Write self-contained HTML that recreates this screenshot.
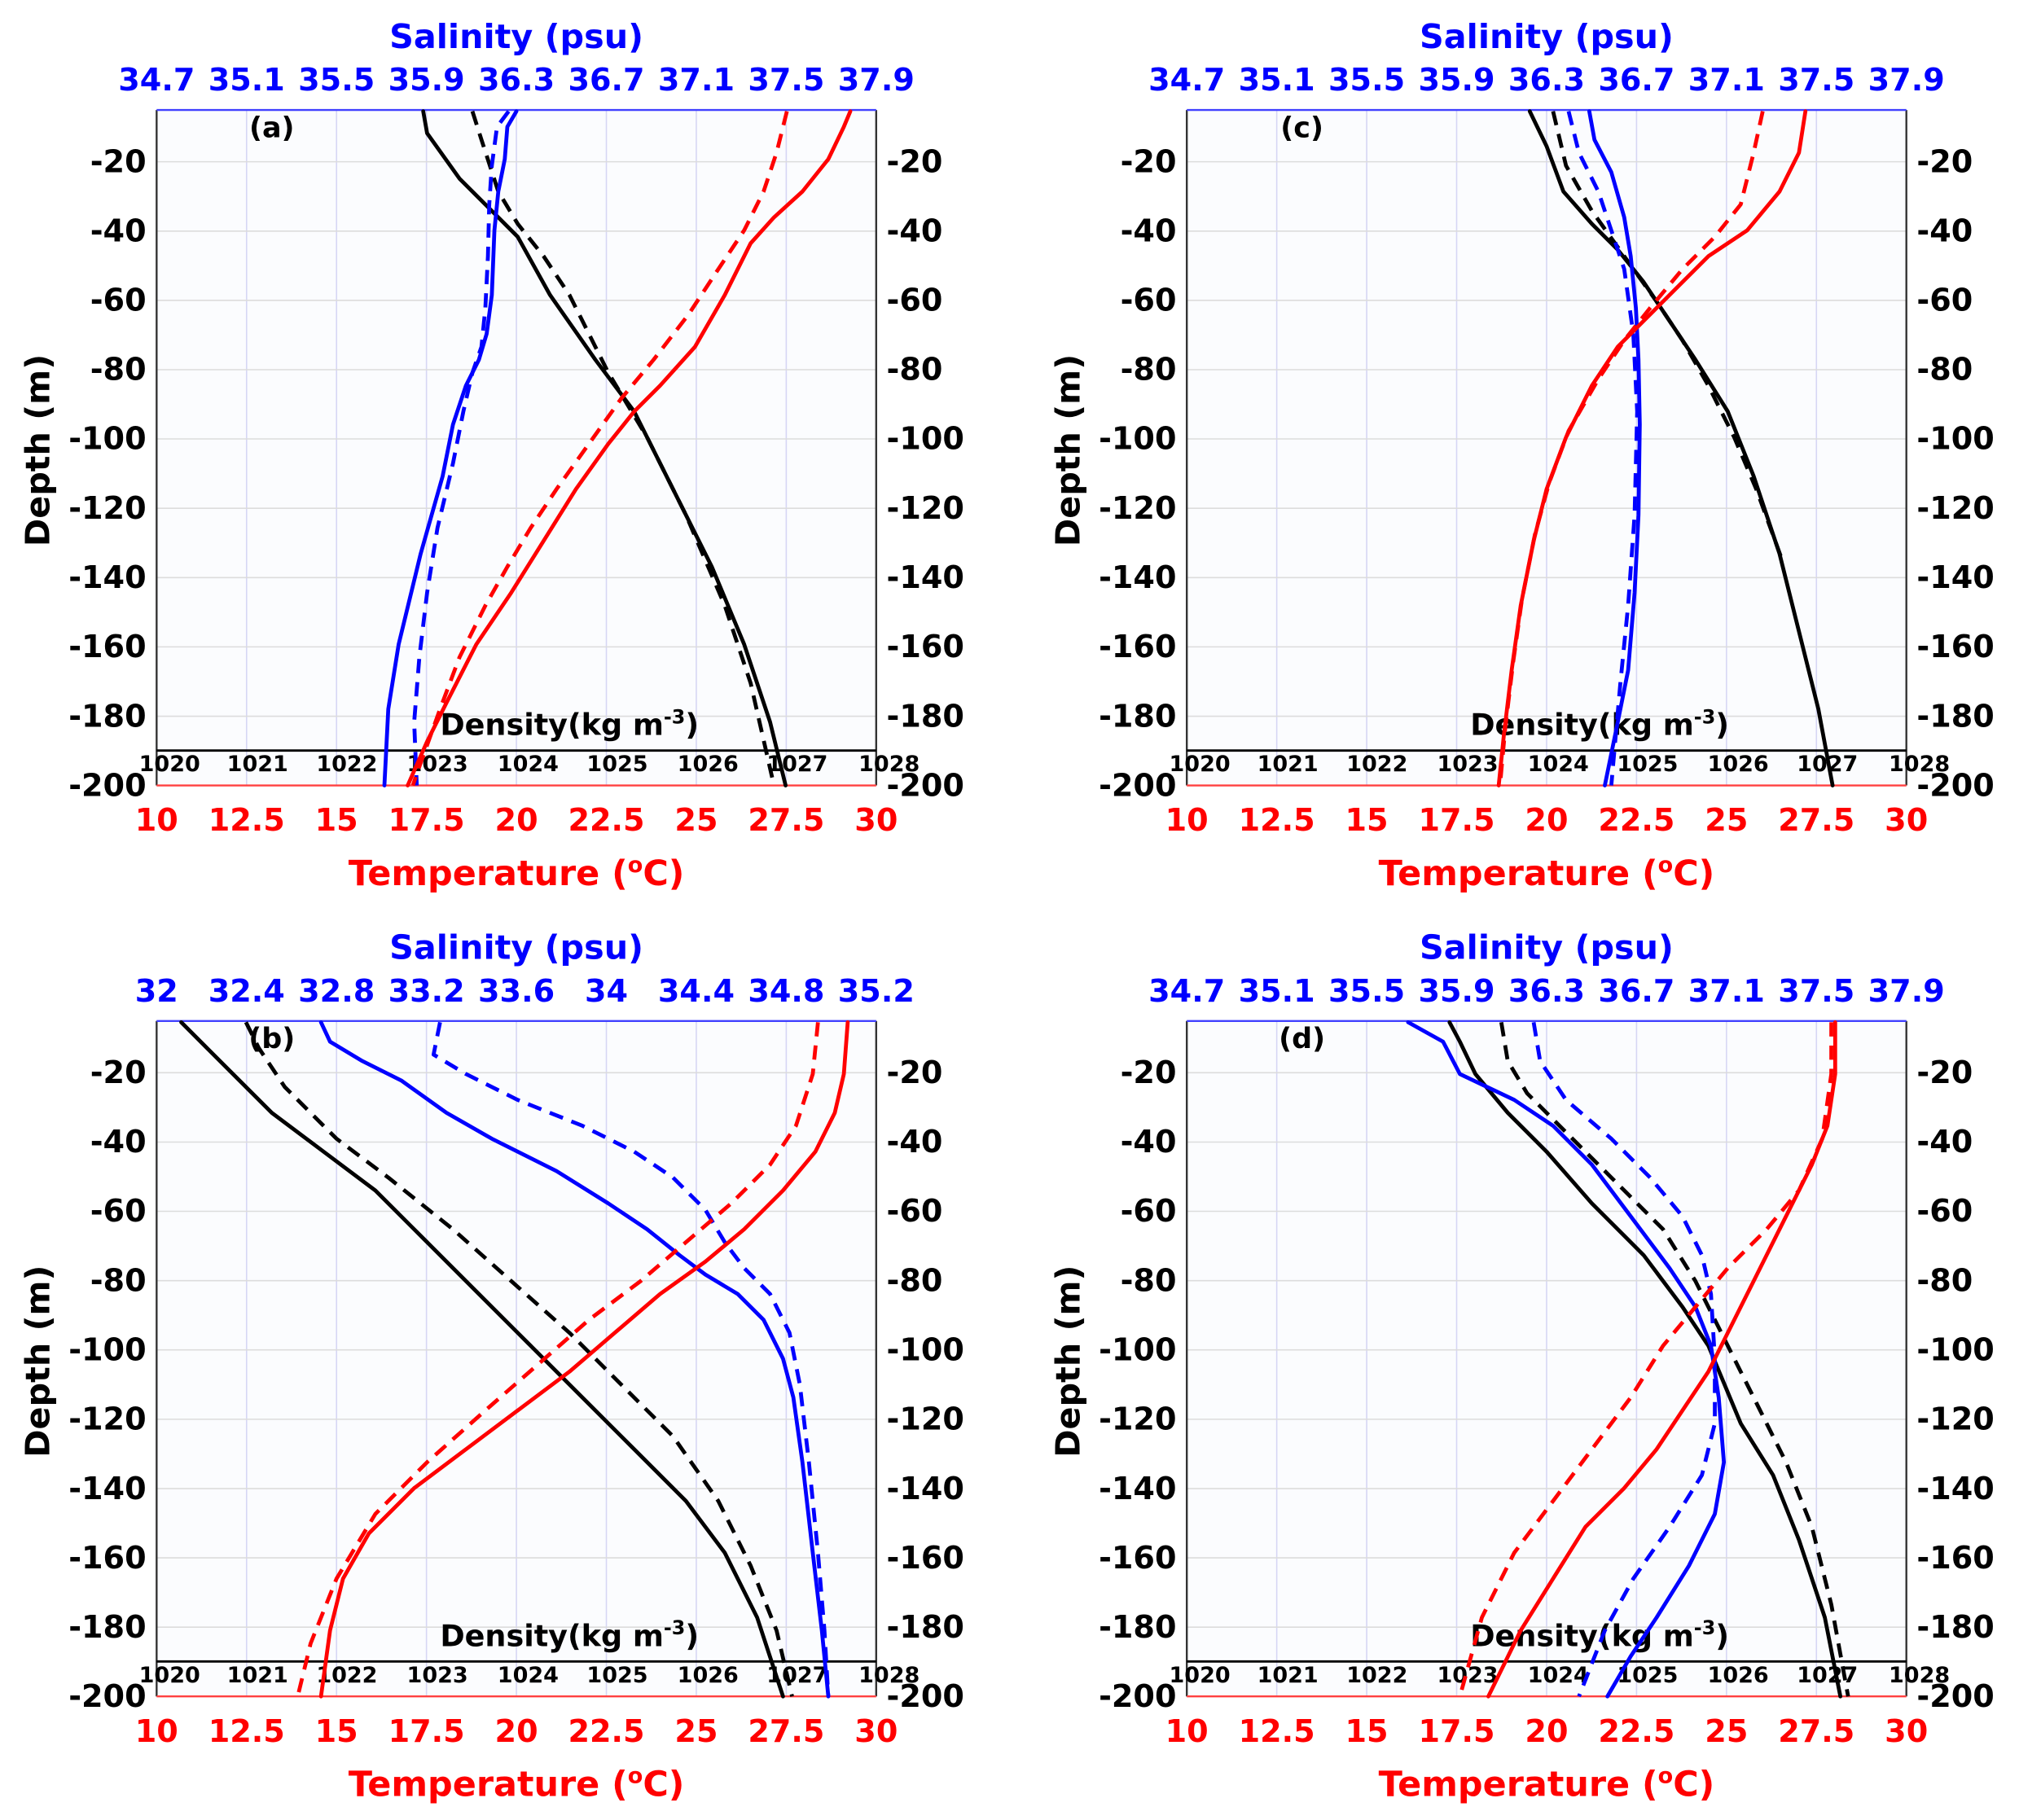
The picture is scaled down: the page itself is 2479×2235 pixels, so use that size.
<!DOCTYPE html>
<html><head><meta charset="utf-8"><style>
html,body{margin:0;padding:0;background:#fff;}
svg{display:block;}
text{font-family:"DejaVu Sans","Liberation Sans",sans-serif;font-weight:bold;}
.sal{fill:#0000ff;font-size:24px;text-anchor:middle;}
.tmp{fill:#ff0000;font-size:24px;text-anchor:middle;}
.dl{fill:#000;font-size:24px;text-anchor:end;}
.dr{fill:#000;font-size:24px;text-anchor:start;}
.den{fill:#000;font-size:17px;text-anchor:middle;}
.vg{stroke:#d6d6f4;stroke-width:1;}
.hg{stroke:#dcdcdc;stroke-width:1;}
.c{fill:none;stroke-width:3;stroke-linejoin:round;stroke-linecap:round;}
.d{stroke-dasharray:11 7;stroke-linecap:butt;}
</style></head><body>
<svg width="2479" height="2235" viewBox="0 0 1560 1406.5" xmlns="http://www.w3.org/2000/svg">
<rect width="1560" height="1406.5" fill="#fff"/>
<defs>
<g id="frame">
<rect x="121" y="85" width="556" height="522" fill="#fbfcfe"/>
<g class="vg"><line x1="190.5" y1="85" x2="190.5" y2="607"/><line x1="260" y1="85" x2="260" y2="607"/><line x1="329.5" y1="85" x2="329.5" y2="607"/><line x1="399" y1="85" x2="399" y2="607"/><line x1="468.5" y1="85" x2="468.5" y2="607"/><line x1="538" y1="85" x2="538" y2="607"/><line x1="607.5" y1="85" x2="607.5" y2="607"/></g>
<g class="hg"><line x1="121" y1="125" x2="677" y2="125"/><line x1="121" y1="178.6" x2="677" y2="178.6"/><line x1="121" y1="232.1" x2="677" y2="232.1"/><line x1="121" y1="285.7" x2="677" y2="285.7"/><line x1="121" y1="339.2" x2="677" y2="339.2"/><line x1="121" y1="392.8" x2="677" y2="392.8"/><line x1="121" y1="446.4" x2="677" y2="446.4"/><line x1="121" y1="499.9" x2="677" y2="499.9"/><line x1="121" y1="553.5" x2="677" y2="553.5"/></g>
<line x1="121" y1="85" x2="121" y2="607" stroke="#333" stroke-width="1.5"/>
<line x1="677" y1="85" x2="677" y2="607" stroke="#333" stroke-width="1.5"/>
<line x1="121" y1="85" x2="677" y2="85" stroke="#4040ff" stroke-width="1.5"/>
<line x1="121" y1="607" x2="677" y2="607" stroke="#ff4040" stroke-width="1.5"/>
<line x1="121" y1="580" x2="677" y2="580" stroke="#000" stroke-width="1.8"/>
</g>
</defs>

<!-- PANEL A -->
<g transform="translate(0,0)">
<use href="#frame"/>
<text x="399" y="37" fill="#0000ff" font-size="26" text-anchor="middle">Salinity (psu)</text>
<g class="sal"><text x="121" y="70">34.7</text><text x="190.5" y="70">35.1</text><text x="260" y="70">35.5</text><text x="329.5" y="70">35.9</text><text x="399" y="70">36.3</text><text x="468.5" y="70">36.7</text><text x="538" y="70">37.1</text><text x="607.5" y="70">37.5</text><text x="677" y="70">37.9</text></g>
<g class="dl"><text x="113" y="133">-20</text><text x="113" y="186.6">-40</text><text x="113" y="240.1">-60</text><text x="113" y="293.7">-80</text><text x="113" y="347.2">-100</text><text x="113" y="400.8">-120</text><text x="113" y="454.4">-140</text><text x="113" y="507.9">-160</text><text x="113" y="561.5">-180</text><text x="113" y="615">-200</text></g>
<g class="dr"><text x="685" y="133">-20</text><text x="685" y="186.6">-40</text><text x="685" y="240.1">-60</text><text x="685" y="293.7">-80</text><text x="685" y="347.2">-100</text><text x="685" y="400.8">-120</text><text x="685" y="454.4">-140</text><text x="685" y="507.9">-160</text><text x="685" y="561.5">-180</text><text x="685" y="615">-200</text></g>
<g class="tmp"><text x="121" y="642">10</text><text x="190.5" y="642">12.5</text><text x="260" y="642">15</text><text x="329.5" y="642">17.5</text><text x="399" y="642">20</text><text x="468.5" y="642">22.5</text><text x="538" y="642">25</text><text x="607.5" y="642">27.5</text><text x="677" y="642">30</text></g>
<g class="den"><text x="131" y="596">1020</text><text x="199" y="596">1021</text><text x="268" y="596">1022</text><text x="338" y="596">1023</text><text x="408" y="596">1024</text><text x="477" y="596">1025</text><text x="547" y="596">1026</text><text x="616" y="596">1027</text><text x="687" y="596">1028</text></g>
<text x="399" y="684" fill="#ff0000" font-size="27" text-anchor="middle">Temperature (<tspan font-size="17" dy="-10">o</tspan><tspan dy="10">C)</tspan></text>
<text x="440" y="568" fill="#000" font-size="23" text-anchor="middle">Density(kg m<tspan font-size="15" dy="-9">-3</tspan><tspan dy="9">)</tspan></text>
<text transform="translate(38,348) rotate(-90)" fill="#000" font-size="26" text-anchor="middle">Depth (m)</text>
<text x="210" y="106" fill="#000" font-size="22" text-anchor="middle">(a)</text>
<polyline class="c" stroke="#000" points="327,86 330,103 355,138 385,168 400,183 425,228 460,278 490,318 520,378 550,438 575,498 595,558 607,607"/>
<polyline class="c d" stroke="#000" points="365,86 372,108 385,148 400,173 420,198 440,228 470,288 500,338 530,398 560,468 580,528 598,607"/>
<polyline class="c" stroke="#0000ff" points="399,86 392,98 390,123 385,148 382,178 380,228 376,258 370,278 360,298 350,328 342,368 325,428 308,498 300,548 297,607"/>
<polyline class="c d" stroke="#0000ff" points="393,86 384,98 380,128 378,158 377,198 375,238 372,268 365,288 358,318 350,358 338,408 330,458 324,508 320,558 322,607"/>
<polyline class="c" stroke="#ff0000" points="657,86 652,98 640,123 620,148 598,168 580,188 560,228 537,268 510,298 490,318 470,343 445,378 420,418 395,458 368,498 345,543 330,573 315,607"/>
<polyline class="c d" stroke="#ff0000" points="608,86 600,118 590,148 575,178 555,208 532,243 505,278 480,308 455,343 430,378 410,408 392,438 375,468 355,508 340,548 322,598 319,607"/>
</g>

<!-- PANEL C -->
<g transform="translate(796,0)">
<use href="#frame"/>
<text x="399" y="37" fill="#0000ff" font-size="26" text-anchor="middle">Salinity (psu)</text>
<g class="sal"><text x="121" y="70">34.7</text><text x="190.5" y="70">35.1</text><text x="260" y="70">35.5</text><text x="329.5" y="70">35.9</text><text x="399" y="70">36.3</text><text x="468.5" y="70">36.7</text><text x="538" y="70">37.1</text><text x="607.5" y="70">37.5</text><text x="677" y="70">37.9</text></g>
<g class="dl"><text x="113" y="133">-20</text><text x="113" y="186.6">-40</text><text x="113" y="240.1">-60</text><text x="113" y="293.7">-80</text><text x="113" y="347.2">-100</text><text x="113" y="400.8">-120</text><text x="113" y="454.4">-140</text><text x="113" y="507.9">-160</text><text x="113" y="561.5">-180</text><text x="113" y="615">-200</text></g>
<g class="dr"><text x="685" y="133">-20</text><text x="685" y="186.6">-40</text><text x="685" y="240.1">-60</text><text x="685" y="293.7">-80</text><text x="685" y="347.2">-100</text><text x="685" y="400.8">-120</text><text x="685" y="454.4">-140</text><text x="685" y="507.9">-160</text><text x="685" y="561.5">-180</text><text x="685" y="615">-200</text></g>
<g class="tmp"><text x="121" y="642">10</text><text x="190.5" y="642">12.5</text><text x="260" y="642">15</text><text x="329.5" y="642">17.5</text><text x="399" y="642">20</text><text x="468.5" y="642">22.5</text><text x="538" y="642">25</text><text x="607.5" y="642">27.5</text><text x="677" y="642">30</text></g>
<g class="den"><text x="131" y="596">1020</text><text x="199" y="596">1021</text><text x="268" y="596">1022</text><text x="338" y="596">1023</text><text x="408" y="596">1024</text><text x="477" y="596">1025</text><text x="547" y="596">1026</text><text x="616" y="596">1027</text><text x="687" y="596">1028</text></g>
<text x="399" y="684" fill="#ff0000" font-size="27" text-anchor="middle">Temperature (<tspan font-size="17" dy="-10">o</tspan><tspan dy="10">C)</tspan></text>
<text x="440" y="568" fill="#000" font-size="23" text-anchor="middle">Density(kg m<tspan font-size="15" dy="-9">-3</tspan><tspan dy="9">)</tspan></text>
<text transform="translate(38,348) rotate(-90)" fill="#000" font-size="26" text-anchor="middle">Depth (m)</text>
<text x="210" y="106" fill="#000" font-size="22" text-anchor="middle">(c)</text>
<polyline class="c" stroke="#000" points="386,86 399,113 412,148 434,173 454,193 474,218 494,248 514,278 539,318 559,368 579,428 594,488 609,548 620,607"/>
<polyline class="c d" stroke="#000" points="404,86 414,128 434,163 459,198 484,233 504,263 524,298 544,338 561,378 580,430"/>
<polyline class="c" stroke="#0000ff" points="432,86 436,108 449,133 459,168 464,198 468,238 470,278 471,328 470,398 467,458 462,518 454,558 444,607"/>
<polyline class="c d" stroke="#0000ff" points="416,86 424,118 439,148 449,178 459,208 466,258 469,318 467,398 462,468 456,528 449,607"/>
<polyline class="c" stroke="#ff0000" points="599,86 594,118 579,148 554,178 524,198 499,223 474,248 454,268 434,298 414,338 399,378 389,418 379,468 372,518 366,568 362,607"/>
<polyline class="c d" stroke="#ff0000" points="566,86 559,118 549,158 529,183 504,208 479,238 459,263 439,293 416,333 401,373 390,413 380,463 373,513 367,563 363,607"/>
</g>

<!-- PANEL B -->
<g transform="translate(0,704)">
<use href="#frame"/>
<text x="399" y="37" fill="#0000ff" font-size="26" text-anchor="middle">Salinity (psu)</text>
<g class="sal"><text x="121" y="70">32</text><text x="190.5" y="70">32.4</text><text x="260" y="70">32.8</text><text x="329.5" y="70">33.2</text><text x="399" y="70">33.6</text><text x="468.5" y="70">34</text><text x="538" y="70">34.4</text><text x="607.5" y="70">34.8</text><text x="677" y="70">35.2</text></g>
<g class="dl"><text x="113" y="133">-20</text><text x="113" y="186.6">-40</text><text x="113" y="240.1">-60</text><text x="113" y="293.7">-80</text><text x="113" y="347.2">-100</text><text x="113" y="400.8">-120</text><text x="113" y="454.4">-140</text><text x="113" y="507.9">-160</text><text x="113" y="561.5">-180</text><text x="113" y="615">-200</text></g>
<g class="dr"><text x="685" y="133">-20</text><text x="685" y="186.6">-40</text><text x="685" y="240.1">-60</text><text x="685" y="293.7">-80</text><text x="685" y="347.2">-100</text><text x="685" y="400.8">-120</text><text x="685" y="454.4">-140</text><text x="685" y="507.9">-160</text><text x="685" y="561.5">-180</text><text x="685" y="615">-200</text></g>
<g class="tmp"><text x="121" y="642">10</text><text x="190.5" y="642">12.5</text><text x="260" y="642">15</text><text x="329.5" y="642">17.5</text><text x="399" y="642">20</text><text x="468.5" y="642">22.5</text><text x="538" y="642">25</text><text x="607.5" y="642">27.5</text><text x="677" y="642">30</text></g>
<g class="den"><text x="131" y="596">1020</text><text x="199" y="596">1021</text><text x="268" y="596">1022</text><text x="338" y="596">1023</text><text x="408" y="596">1024</text><text x="477" y="596">1025</text><text x="547" y="596">1026</text><text x="616" y="596">1027</text><text x="687" y="596">1028</text></g>
<text x="399" y="684" fill="#ff0000" font-size="27" text-anchor="middle">Temperature (<tspan font-size="17" dy="-10">o</tspan><tspan dy="10">C)</tspan></text>
<text x="440" y="568" fill="#000" font-size="23" text-anchor="middle">Density(kg m<tspan font-size="15" dy="-9">-3</tspan><tspan dy="9">)</tspan></text>
<text transform="translate(38,348) rotate(-90)" fill="#000" font-size="26" text-anchor="middle">Depth (m)</text>
<text x="210" y="106" fill="#000" font-size="22" text-anchor="middle">(b)</text>
<polyline class="c" stroke="#000" points="140,86 160,106 180,126 210,156 250,186 290,216 330,256 370,296 410,336 450,376 490,416 530,456 560,496 585,546 605,607"/>
<polyline class="c d" stroke="#000" points="190,86 200,106 220,136 260,176 300,206 350,246 395,286 440,326 480,366 520,406 555,456 580,506 600,556 612,607"/>
<polyline class="c" stroke="#0000ff" points="248,86 255,101 280,116 310,131 345,156 380,176 430,201 470,226 500,246 525,266 545,281 570,296 590,316 605,346 613,376 620,426 628,496 635,556 640,607"/>
<polyline class="c d" stroke="#0000ff" points="340,86 335,111 360,126 400,146 450,166 490,186 520,206 545,231 560,256 575,276 595,296 610,326 618,366 625,426 632,496 637,556 640,607"/>
<polyline class="c" stroke="#ff0000" points="655,86 652,126 645,156 630,186 605,216 575,246 545,271 510,296 475,326 440,356 400,386 360,416 320,446 285,481 265,516 255,556 248,607"/>
<polyline class="c d" stroke="#ff0000" points="632,86 628,126 615,166 595,196 565,226 530,256 495,286 455,316 415,351 375,386 330,426 290,466 260,516 240,566 230,607"/>
</g>

<!-- PANEL D -->
<g transform="translate(796,704)">
<use href="#frame"/>
<text x="399" y="37" fill="#0000ff" font-size="26" text-anchor="middle">Salinity (psu)</text>
<g class="sal"><text x="121" y="70">34.7</text><text x="190.5" y="70">35.1</text><text x="260" y="70">35.5</text><text x="329.5" y="70">35.9</text><text x="399" y="70">36.3</text><text x="468.5" y="70">36.7</text><text x="538" y="70">37.1</text><text x="607.5" y="70">37.5</text><text x="677" y="70">37.9</text></g>
<g class="dl"><text x="113" y="133">-20</text><text x="113" y="186.6">-40</text><text x="113" y="240.1">-60</text><text x="113" y="293.7">-80</text><text x="113" y="347.2">-100</text><text x="113" y="400.8">-120</text><text x="113" y="454.4">-140</text><text x="113" y="507.9">-160</text><text x="113" y="561.5">-180</text><text x="113" y="615">-200</text></g>
<g class="dr"><text x="685" y="133">-20</text><text x="685" y="186.6">-40</text><text x="685" y="240.1">-60</text><text x="685" y="293.7">-80</text><text x="685" y="347.2">-100</text><text x="685" y="400.8">-120</text><text x="685" y="454.4">-140</text><text x="685" y="507.9">-160</text><text x="685" y="561.5">-180</text><text x="685" y="615">-200</text></g>
<g class="tmp"><text x="121" y="642">10</text><text x="190.5" y="642">12.5</text><text x="260" y="642">15</text><text x="329.5" y="642">17.5</text><text x="399" y="642">20</text><text x="468.5" y="642">22.5</text><text x="538" y="642">25</text><text x="607.5" y="642">27.5</text><text x="677" y="642">30</text></g>
<g class="den"><text x="131" y="596">1020</text><text x="199" y="596">1021</text><text x="268" y="596">1022</text><text x="338" y="596">1023</text><text x="408" y="596">1024</text><text x="477" y="596">1025</text><text x="547" y="596">1026</text><text x="616" y="596">1027</text><text x="687" y="596">1028</text></g>
<text x="399" y="684" fill="#ff0000" font-size="27" text-anchor="middle">Temperature (<tspan font-size="17" dy="-10">o</tspan><tspan dy="10">C)</tspan></text>
<text x="440" y="568" fill="#000" font-size="23" text-anchor="middle">Density(kg m<tspan font-size="15" dy="-9">-3</tspan><tspan dy="9">)</tspan></text>
<text transform="translate(38,348) rotate(-90)" fill="#000" font-size="26" text-anchor="middle">Depth (m)</text>
<text x="210" y="106" fill="#000" font-size="22" text-anchor="middle">(d)</text>
<polyline class="c" stroke="#000" points="324,86 332,101 344,126 369,156 399,186 434,226 474,266 504,306 524,336 549,396 574,436 594,486 614,546 626,607"/>
<polyline class="c d" stroke="#000" points="364,86 369,116 384,141 414,171 449,206 489,246 514,286 534,326 559,376 584,426 604,476 619,536 632,607"/>
<polyline class="c" stroke="#0000ff" points="292,86 319,101 332,126 374,146 404,166 434,196 464,236 494,276 514,306 526,336 532,376 536,426 529,466 509,506 484,546 464,576 446,607"/>
<polyline class="c d" stroke="#0000ff" points="389,86 394,116 414,146 449,176 479,206 504,236 519,266 526,296 529,346 529,396 519,436 494,476 466,516 444,556 424,607"/>
<polyline class="c" stroke="#ff0000" points="622,86 622,126 616,166 604,196 589,226 574,256 559,286 544,316 524,356 504,386 484,416 459,446 429,476 404,516 379,556 354,607"/>
<polyline class="c d" stroke="#ff0000" points="619,86 619,126 612,176 594,216 569,246 539,276 514,306 489,336 464,376 434,416 404,456 374,496 349,546 332,607"/>
</g>
</svg>
</body></html>
